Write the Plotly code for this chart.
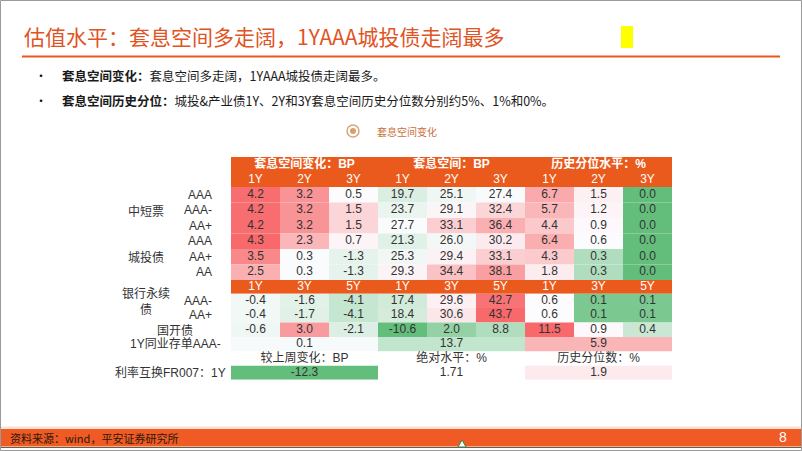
import numpy as np
import plotly.graph_objects as go

W, H = 802, 451

# ---------------- data ----------------
TITLE = "估值水平：套息空间多走阔，1YAAA城投债走阔最多"
BULLET1_B = "套息空间变化："
BULLET1 = "套息空间多走阔，1YAAA城投债走阔最多。"
BULLET2_B = "套息空间历史分位："
BULLET2 = "城投&产业债1Y、2Y和3Y套息空间历史分位数分别约5%、1%和0%。"
LEGEND = "套息空间变化"
SOURCE = "资料来源：wind，平安证券研究所"
PAGE = "8"

GROUP_HEADERS = ["套息空间变化：BP", "套息空间：BP", "历史分位水平：%"]
TENORS_A = ["1Y", "2Y", "3Y"]
TENORS_B = ["1Y", "3Y", "5Y"]

SEC1_GROUPS = ["中短票", "城投债"]
SEC1_RATINGS = ["AAA", "AAA-", "AA+", "AAA", "AA+", "AA"]
SEC1_CHG = [[4.2, 3.2, 0.5], [4.2, 3.2, 1.5], [4.2, 3.2, 1.5],
            [4.3, 2.3, 0.7], [3.5, 0.3, -1.3], [2.5, 0.3, -1.3]]
SEC1_SPREAD = [[19.7, 25.1, 27.4], [23.7, 29.1, 32.4], [27.7, 33.1, 36.4],
               [21.3, 26.0, 30.2], [25.3, 29.4, 33.1], [29.3, 34.4, 38.1]]
SEC1_PCT = [[6.7, 1.5, 0.0], [5.7, 1.2, 0.0], [4.4, 0.9, 0.0],
            [6.4, 0.6, 0.0], [4.3, 0.3, 0.0], [1.8, 0.3, 0.0]]

BANK_LABEL = "银行永续<br>债"
BANK_RATINGS = ["AAA-", "AA+"]
BANK_CHG = [[-0.4, -1.6, -4.1], [-0.4, -1.7, -4.1]]
BANK_SPREAD = [[17.4, 29.6, 42.7], [18.4, 30.6, 43.7]]
BANK_PCT = [[0.6, 0.1, 0.1], [0.6, 0.1, 0.1]]

CDB_LABEL = "国开债"
CDB_CHG = [-0.6, 3.0, -2.1]
CDB_SPREAD = [-10.6, 2.0, 8.8]
CDB_PCT = [11.5, 0.9, 0.4]

NCD_LABEL = "1Y同业存单AAA-"
NCD_CHG = 0.1
NCD_SPREAD = 13.7
NCD_PCT = 5.9

IRS_HEADERS = ["较上周变化：BP", "绝对水平：%", "历史分位数：%"]
IRS_LABEL = "利率互换FR007：1Y"
IRS_CHG = -12.3
IRS_LEVEL = 1.71
IRS_PCT = 1.9

# ---------------- styles ----------------
ORANGE = "#EA5A1C"
TXT = "#333333"
CJK = "Noto Sans CJK SC"
NUMF = "Liberation Sans, Noto Sans CJK SC"
GREEN = (99, 190, 123)
WHITE = (252, 252, 255)
RED = (248, 105, 107)
ROW_H = [15, 15] + [15.5] * 6 + [13.7] + [14.4] * 5 + [14]
TABLE_TOP, TABLE_LEFT, TABLE_RIGHT = 157, 231, 672

edges = np.concatenate([[0], np.cumsum(ROW_H)])
TOTAL = edges[-1]
centers = (edges[:-1] + edges[1:]) / 2


def make_scale(vals):
    vals = np.asarray(vals, dtype=float)
    lo, mid, hi = vals.min(), np.percentile(vals, 50), vals.max()

    def f(v):
        if v >= mid:
            t = (v - mid) / (hi - mid) if hi > mid else 0
            c1 = RED
        else:
            t = (mid - v) / (mid - lo) if mid > lo else 0
            c1 = GREEN
        c = [round(WHITE[i] + (c1[i] - WHITE[i]) * t) for i in range(3)]
        return f"rgb({c[0]},{c[1]},{c[2]})"
    return f


flat = lambda m: [v for row in m for v in row]
chg_scale = make_scale(flat(SEC1_CHG) + flat(BANK_CHG) + CDB_CHG + [NCD_CHG, IRS_CHG])
spr_scale = make_scale(flat(SEC1_SPREAD) + flat(BANK_SPREAD) + CDB_SPREAD + [NCD_SPREAD])
pct_scale = make_scale(flat(SEC1_PCT) + flat(BANK_PCT) + CDB_PCT + [NCD_PCT, IRS_PCT])
SCALES = [chg_scale, spr_scale, pct_scale]

shapes = []
tx, ty, tt, tc = [], [], [], []


def cell(r, c0, c1, color):
    shapes.append(dict(type="rect", xref="x", yref="y", layer="below",
                       x0=c0 - 0.5, x1=c1 + 0.5, y0=edges[r], y1=edges[r + 1],
                       fillcolor=color, line=dict(width=0)))


def text(x, r, s, color=TXT):
    tx.append(x); ty.append(centers[r]); tt.append(s); tc.append(color)


# headers
shapes.append(dict(type="rect", xref="x", yref="y", layer="below", x0=-0.5, x1=8.5,
                   y0=edges[0], y1=edges[2], fillcolor=ORANGE, line=dict(width=0)))
for g, h in enumerate(GROUP_HEADERS):
    text(g * 3 + 1, 0, "<b>" + h + "</b>", "white")
    for k, t in enumerate(TENORS_A):
        text(g * 3 + k, 1, t, "white")

# section 1
for i in range(6):
    r = 2 + i
    for g, mat in enumerate([SEC1_CHG, SEC1_SPREAD, SEC1_PCT]):
        for k in range(3):
            v = mat[i][k]
            c = g * 3 + k
            cell(r, c, c, SCALES[g](v))
            text(c, r, f"{v:.1f}")

# separator header
shapes.append(dict(type="rect", xref="x", yref="y", layer="below", x0=-0.5, x1=8.5,
                   y0=edges[8], y1=edges[9], fillcolor=ORANGE, line=dict(width=0)))
for g in range(3):
    for k, t in enumerate(TENORS_B):
        text(g * 3 + k, 8, t, "white")

# bank perpetual + CDB
rows2 = [(BANK_CHG[0], BANK_SPREAD[0], BANK_PCT[0]),
         (BANK_CHG[1], BANK_SPREAD[1], BANK_PCT[1]),
         (CDB_CHG, CDB_SPREAD, CDB_PCT)]
for i, trio in enumerate(rows2):
    r = 9 + i
    for g, vals in enumerate(trio):
        for k in range(3):
            v = vals[k]
            c = g * 3 + k
            cell(r, c, c, SCALES[g](v))
            text(c, r, f"{v:.1f}")

# NCD row (merged cells)
for g, v in enumerate([NCD_CHG, NCD_SPREAD, NCD_PCT]):
    cell(12, g * 3, g * 3 + 2, SCALES[g](v))
    text(g * 3 + 1, 12, f"{v:.1f}")

# IRS sub-header and row
for g, h in enumerate(IRS_HEADERS):
    text(g * 3 + 1, 13, h)
cell(14, 0, 2, chg_scale(IRS_CHG))
text(1, 14, f"{IRS_CHG:.1f}")
text(4, 14, f"{IRS_LEVEL:.2f}")
cell(14, 6, 8, pct_scale(IRS_PCT))
text(7, 14, f"{IRS_PCT:.1f}")

fig = go.Figure()
fig.add_trace(go.Scatter(x=tx, y=ty, text=tt, mode="text", hoverinfo="skip",
                         textposition="middle center",
                         textfont=dict(family=NUMF, size=12, color=tc),
                         showlegend=False))

px = lambda x: x / W
py = lambda y: 1 - y / H

ann = []


def note(x, y, s, size=12, color=TXT, anchor="left", family=CJK, yref="paper"):
    ann.append(dict(x=px(x), y=(py(y) if yref == "paper" else y), xref="paper", yref=yref,
                    text=s, showarrow=False, xanchor=anchor, yanchor="middle",
                    font=dict(family=family, size=size, color=color)))


# row labels
note(146, centers[3], SEC1_GROUPS[0], anchor="center", yref="y")
note(146, centers[6], SEC1_GROUPS[1], anchor="center", yref="y")
for i, rt in enumerate(SEC1_RATINGS):
    note(214, centers[2 + i], rt, anchor="right", family=NUMF, yref="y")
note(146, centers[9], BANK_LABEL, anchor="center", yref="y")
for i, rt in enumerate(BANK_RATINGS):
    note(214, centers[9 + i], rt, anchor="right", family=NUMF, yref="y")
note(175, centers[11], CDB_LABEL, anchor="center", yref="y")
note(175, centers[12], NCD_LABEL, anchor="center", family=NUMF, yref="y")
note(228, centers[14], IRS_LABEL, anchor="right", family=NUMF, yref="y")

# page texts
note(22, 36, TITLE, size=21, color="#DF5424")
note(33, 76, "•", size=12, color="#111111")
note(33, 101, "•", size=12, color="#111111")
note(60, 76, "<b>" + BULLET1_B + "</b>" + BULLET1, size=12.5, color="#1a1a1a")
note(60, 101, "<b>" + BULLET2_B + "</b>" + BULLET2, size=12.5, color="#1a1a1a")
note(375, 131, LEGEND, size=10, color="#C8703A")
note(8, 437.5, SOURCE, size=11, color="#2A1A0A")
note(783, 437, PAGE, size=14, color="white", anchor="center", family=NUMF)

# page decorations
deco = [
    dict(type="rect", xref="paper", yref="paper", x0=px(621), x1=px(633), y0=py(48), y1=py(26),
         fillcolor="#FFFF00", line=dict(width=0)),
    dict(type="line", xref="paper", yref="paper", x0=px(22), x1=px(780), y0=py(56.5), y1=py(56.5),
         line=dict(color="#E8581E", width=2)),
    dict(type="circle", xref="paper", yref="paper", x0=px(347), x1=px(359), y0=py(137), y1=py(125),
         fillcolor="white", line=dict(color="#D4A878", width=1.5)),
    dict(type="circle", xref="paper", yref="paper", x0=px(350), x1=px(356), y0=py(134), y1=py(128),
         fillcolor="#D8A06A", line=dict(width=0)),
    dict(type="rect", xref="paper", yref="paper", x0=0, x1=1, y0=py(429), y1=py(426.5),
         fillcolor="#FCE2CC", line=dict(width=0)),
    dict(type="rect", xref="paper", yref="paper", x0=0, x1=1, y0=py(446.5), y1=py(429),
         fillcolor="#F05A24", line=dict(width=0)),
    dict(type="line", xref="paper", yref="paper", x0=0, x1=1, y0=py(447.5), y1=py(447.5),
         line=dict(color="#6B6040", width=1)),
    dict(type="path", xref="paper", yref="paper",
         path=f"M {px(458)} {py(447)} L {px(462)} {py(440)} L {px(466)} {py(447)} Z",
         fillcolor="white", line=dict(color="#2E8B57", width=1)),
    dict(type="rect", xref="paper", yref="paper", x0=px(0.5), x1=px(801.5), y0=py(450.5), y1=py(0.5),
         line=dict(color="#9A9A9A", width=1)),
]

fig.update_layout(
    width=W, height=H, autosize=False,
    margin=dict(l=0, r=0, t=0, b=0),
    paper_bgcolor="white", plot_bgcolor="rgba(0,0,0,0)",
    xaxis=dict(domain=[px(TABLE_LEFT), px(TABLE_RIGHT)], range=[-0.5, 8.5], visible=False,
               fixedrange=True),
    yaxis=dict(domain=[py(TABLE_TOP + TOTAL), py(TABLE_TOP)], range=[TOTAL, 0], visible=False,
               fixedrange=True),
    shapes=shapes + deco,
    annotations=ann,
    showlegend=False,
)

fig.write_html("out.html", config={"displayModeBar": False},
               post_script="document.body.style.margin='0';document.body.style.overflow='hidden';")
